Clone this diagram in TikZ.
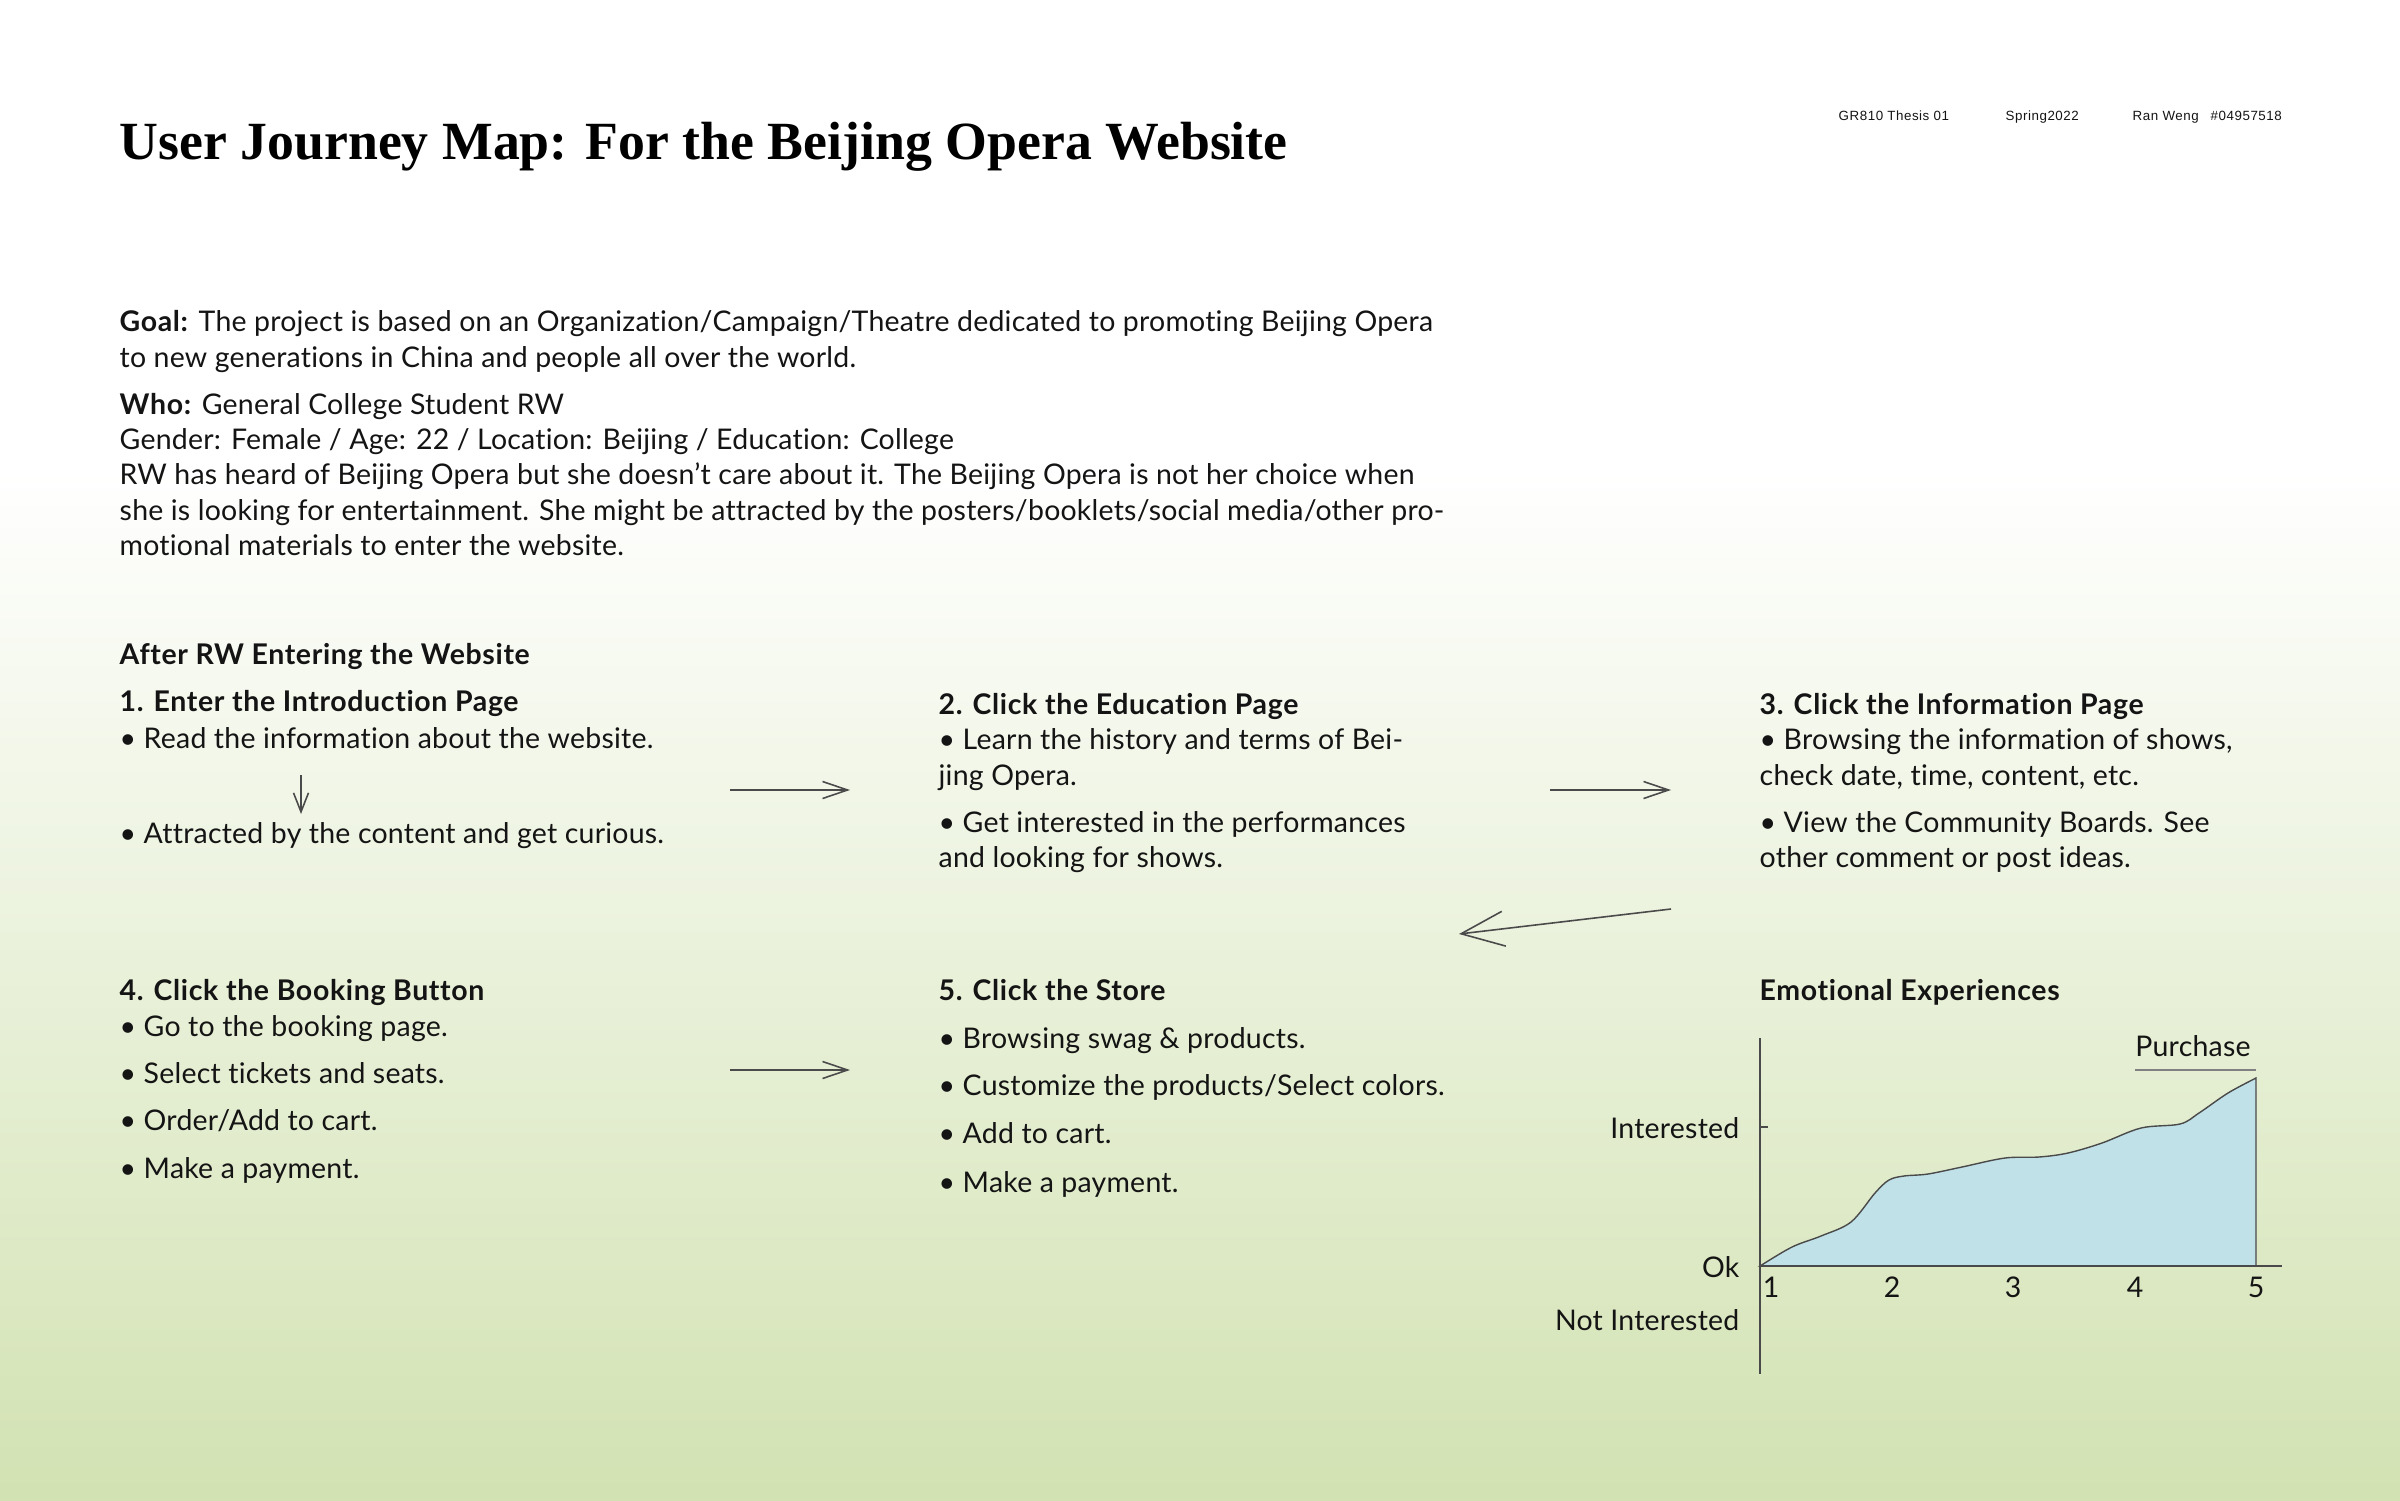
\documentclass[tikz,border=0pt]{standalone}
\usepackage{fontspec}
\setmainfont{Lato}[Ligatures=NoCommon,LetterSpace=0.8,BoldFeatures={LetterSpace=2.3}]
\newfontfamily\titlefont{Liberation Serif}
\newfontfamily\metafont{Liberation Sans}[LetterSpace=4]
\usetikzlibrary{arrows.meta}
\definecolor{ink}{HTML}{141414}
\definecolor{linegrey}{HTML}{4A4A4A}
\definecolor{bggreen}{HTML}{D2E2B2}
\definecolor{chartfill}{HTML}{C0E1E8}
\begin{document}
\begin{tikzpicture}[x=0.1mm,y=-0.1mm,
  txt/.style={anchor=base west,inner sep=0pt,text=ink,font=\fontsize{8.1}{10}\selectfont},
  hd/.style={txt,font=\fontsize{8.1}{10}\selectfont\bfseries},
  lbl/.style={txt,anchor=base east},
  meta/.style={anchor=base west,inner sep=0pt,text=ink,font=\metafont\fontsize{3.8}{4}\selectfont},
  flow/.style={draw=linegrey,line width=0.45pt,-{Straight Barb[length=2.5mm,width=1.7mm]}}]
\useasboundingbox (0,0) rectangle (2400,1500);
% background
\fill[white] (0,0) rectangle (2400,1500);
\shade[top color=white,bottom color=bggreen] (0,470) rectangle (2400,1500);

% header
\node[anchor=base west,inner sep=0pt,text=black,font=\titlefont\bfseries\fontsize{15.3}{18}\selectfont] (title) at (119,160) {User Journey Map: For the Beijing Opera Website};
\node[meta] (course) at (1838,120) {GR810 Thesis 01};
\node[meta] (term) at (2005,120) {Spring2022};
\node[meta] (author) at (2132,120) {Ran Weng};
\node[meta] (sid) at (2210,120) {\#04957518};

% goal and persona
\node[txt] (goal1) at (119,331) {\textbf{Goal:} The project is based on an Organization/Campaign/Theatre dedicated to promoting Beijing Opera};
\node[txt] (goal2) at (119,367) {to new generations in China and people all over the world.};
\node[txt] (who1) at (119,414) {\textbf{Who:} General College Student RW};
\node[txt] (who2) at (119,449) {Gender: Female / Age: 22 / Location: Beijing / Education: College};
\node[txt] (who3) at (119,484) {RW has heard of Beijing Opera but she doesn’t care about it. The Beijing Opera is not her choice when};
\node[txt] (who4) at (119,520) {she is looking for entertainment. She might be attracted by the posters/booklets/social media/other pro-};
\node[txt] (who5) at (119,555) {motional materials to enter the website.};

% steps
\node[hd] (after) at (119,664) {After RW Entering the Website};

\node[hd] (s1) at (119,711) {1. Enter the Introduction Page};
\node[txt] (s1a) at (119,748) {\textbullet{} Read the information about the website.};
\node[txt] (s1b) at (119,843) {\textbullet{} Attracted by the content and get curious.};

\node[hd] (s2) at (938,714) {2. Click the Education Page};
\node[txt] (s2a) at (938,749) {\textbullet{} Learn the history and terms of Bei-};
\node[txt] (s2b) at (938,785) {jing Opera.};
\node[txt] (s2c) at (938,832) {\textbullet{} Get interested in the performances};
\node[txt] (s2d) at (938,867) {and looking for shows.};

\node[hd] (s3) at (1759,714) {3. Click the Information Page};
\node[txt] (s3a) at (1759,749) {\textbullet{} Browsing the information of shows,};
\node[txt] (s3b) at (1759,785) {check date, time, content, etc.};
\node[txt] (s3c) at (1759,832) {\textbullet{} View the Community Boards. See};
\node[txt] (s3d) at (1759,867) {other comment or post ideas.};

\node[hd] (s4) at (119,1000) {4. Click the Booking Button};
\node[txt] (s4a) at (119,1036) {\textbullet{} Go to the booking page.};
\node[txt] (s4b) at (119,1083) {\textbullet{} Select tickets and seats.};
\node[txt] (s4c) at (119,1130) {\textbullet{} Order/Add to cart.};
\node[txt] (s4d) at (119,1178) {\textbullet{} Make a payment.};

\node[hd] (s5) at (938,1000) {5. Click the Store};
\node[txt] (s5a) at (938,1048) {\textbullet{} Browsing swag \& products.};
\node[txt] (s5b) at (938,1095) {\textbullet{} Customize the products/Select colors.};
\node[txt] (s5c) at (938,1143) {\textbullet{} Add to cart.};
\node[txt] (s5d) at (938,1192) {\textbullet{} Make a payment.};

% connectors
\coordinate (d1) at (301,775);
\coordinate (d2) at (301,814);
\coordinate (a12s) at (730,790);
\coordinate (a12e) at (850,790);
\coordinate (a23s) at (1550,790);
\coordinate (a23e) at (1671,790);
\coordinate (a34s) at (1671,909);
\coordinate (a34e) at (1459,934);
\coordinate (a45s) at (730,1070);
\coordinate (a45e) at (850,1070);
\draw[flow,-{Straight Barb[length=1.9mm,width=1.5mm]}] (d1) -- (d2);
\draw[flow] (a12s) -- (a12e);
\draw[flow] (a23s) -- (a23e);
\draw[flow,-{Straight Barb[length=4.3mm,width=3.5mm]}] (a34s) -- (a34e);
\draw[flow] (a45s) -- (a45e);

% emotional experiences
\node[hd] (emo) at (1759,1000) {Emotional Experiences};
\draw[fill=chartfill,draw=linegrey,line width=0.4pt]
  plot[smooth,tension=0.55] coordinates {(1760,1266) (1792,1247) (1821,1236) (1851,1222)
    (1875,1193) (1889,1180) (1904,1176) (1928,1174) (1962,1167) (2005,1158) (2039,1157)
    (2068,1153) (2102,1143) (2141,1128) (2180,1124) (2199,1113) (2228,1093) (2256,1078)}
  -- (2256,1266) -- cycle;
\coordinate (ytop) at (1760,1038);
\coordinate (ybot) at (1760,1374);
\coordinate (xleft) at (1760,1266);
\coordinate (xright) at (2282,1266);
\draw[linegrey,line width=0.4pt] (ytop) -- (ybot);
\draw[linegrey,line width=0.4pt] (xleft) -- (xright);
\draw[linegrey,line width=0.4pt] (1760,1127) -- (1768,1127);
\node[lbl] (hi) at (1740,1138) {Interested};
\node[lbl] (ok) at (1740,1277) {Ok};
\node[lbl] (lo) at (1740,1330) {Not Interested};
\foreach \n/\x in {1/1771,2/1892,3/2013,4/2135,5/2256}
  \node[txt,anchor=base] (t\n) at (\x,1297) {\n};
\node[txt,anchor=base] (buy) at (2193,1056) {Purchase};
\draw[gray,line width=0.6pt] (2135,1070) -- (2256,1070);
\end{tikzpicture}
\end{document}
